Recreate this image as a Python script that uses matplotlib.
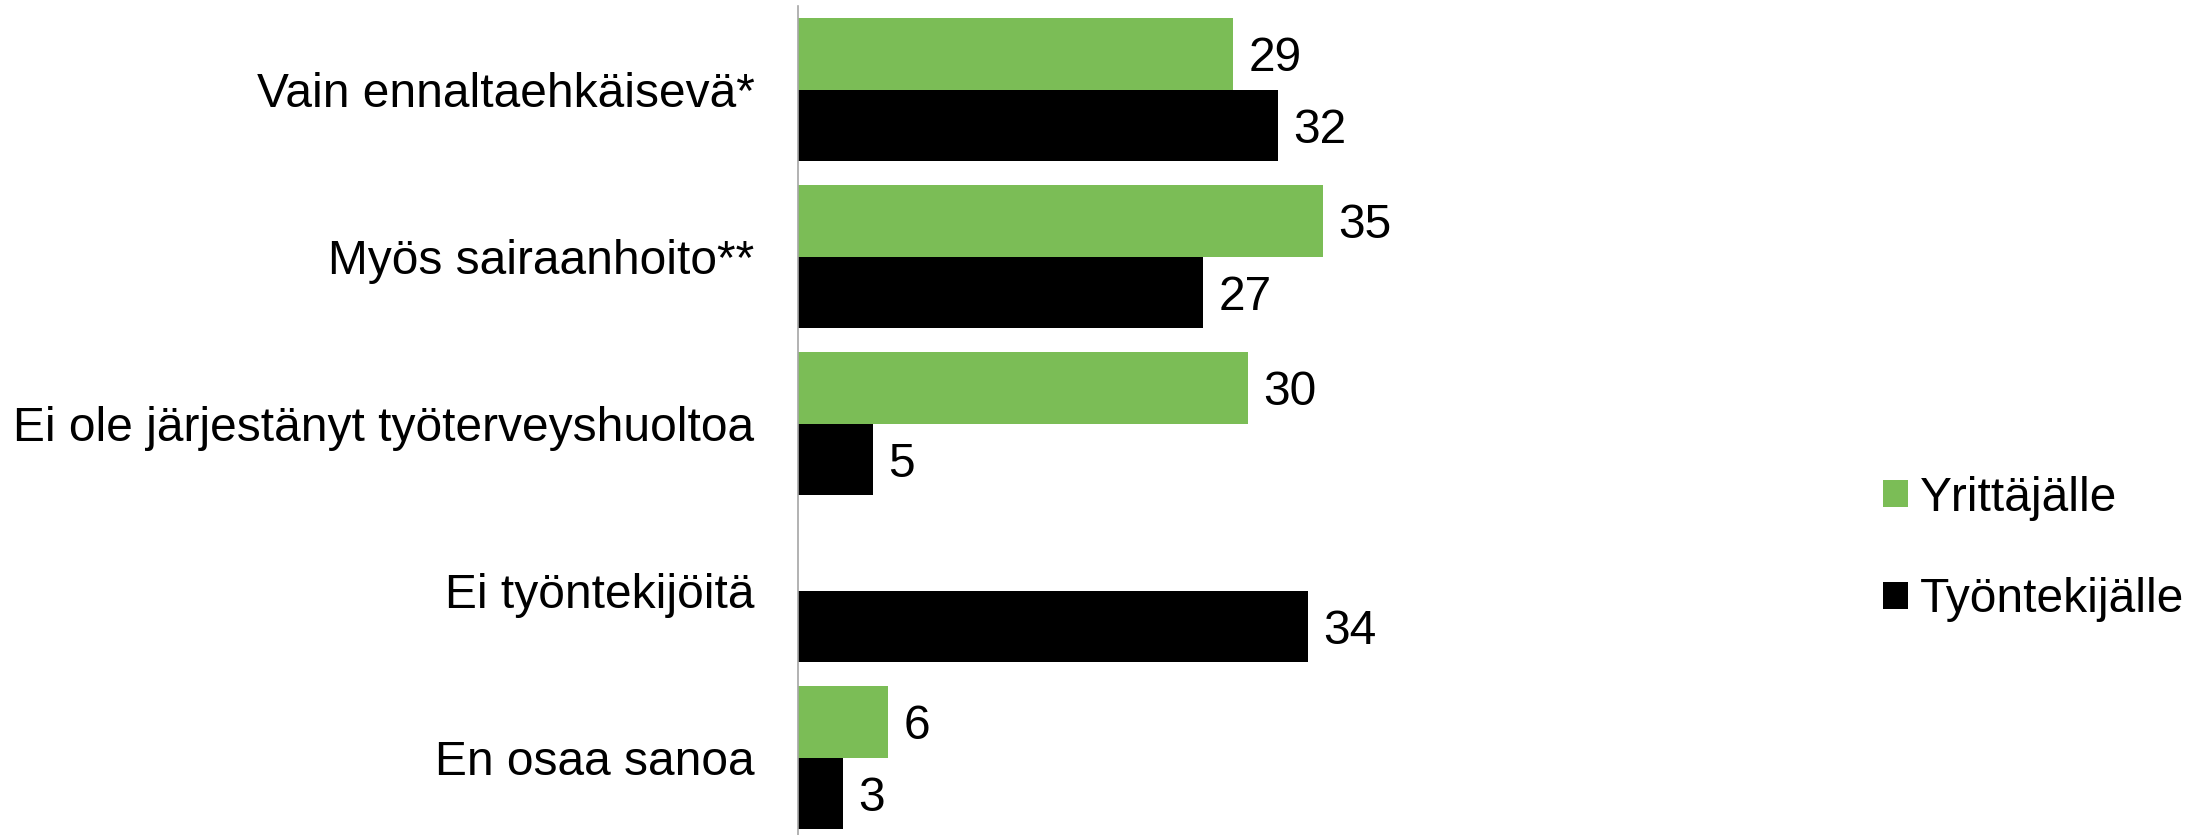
import matplotlib
matplotlib.use("Agg")
import matplotlib.pyplot as plt
import numpy as np

plt.rcParams["font.family"] = ["Liberation Sans", "DejaVu Sans"]

categories = [
    "Vain ennaltaehkäisevä*",
    "Myös sairaanhoito**",
    "Ei ole järjestänyt työterveyshuoltoa",
    "Ei työntekijöitä",
    "En osaa sanoa",
]
series_names = ["Yrittäjälle", "Työntekijälle"]
yrittajalle = [29, 35, 30, np.nan, 6]
tyontekijalle = [32, 27, 5, 34, 3]

green = "#7BBD56"
black = "#000000"
fs = 34.5

W, H = 2203, 835
fig = plt.figure(figsize=(W / 100, H / 100), dpi=100)

# axes placed in pixel units: zero line at x=797.6, 15 px per unit, 167 px per category
x0 = 797.6
x1 = 1800
ax = fig.add_axes([x0 / W, 1 - 841 / H, (x1 - x0) / W, 5 * 167 / H])

y = np.arange(len(categories))
h = 71.5 / 167
b1 = ax.barh(y - h / 2, yrittajalle, height=h, color=green, label=series_names[0])
b2 = ax.barh(y + h / 2, tyontekijalle, height=h, color=black, label=series_names[1])

for bars, vals in [(b1, yrittajalle), (b2, tyontekijalle)]:
    labels = ["" if np.isnan(v) else f"{v:g}" for v in np.asarray(vals, dtype=float)]
    texts = ax.bar_label(bars, labels=labels, padding=11.5, fontsize=fs)
    for t in texts:
        t.set_va("center_baseline")

ax.set_xlim(0, (x1 - x0) / 15)
ax.set_ylim(len(categories) - 0.5, -0.5)
ax.set_yticks(y)
ax.set_yticklabels(categories, fontsize=fs)
ax.tick_params(axis="y", length=0, pad=31)
ax.set_xticks([])

for s in ["top", "right", "bottom"]:
    ax.spines[s].set_visible(False)
ax.spines["left"].set_color("#A6A6A6")
ax.spines["left"].set_linewidth(1.2)

fig.legend(
    handles=[b1, b2],
    labels=series_names,
    loc="center left",
    bbox_to_anchor=(1883 / W, 1 - 549 / H),
    frameon=False,
    fontsize=fs,
    handlelength=0.52,
    handleheight=0.5,
    handletextpad=0.25,
    labelspacing=1.18,
    borderpad=0,
    borderaxespad=0,
)

fig.savefig("out.png", dpi=100)
